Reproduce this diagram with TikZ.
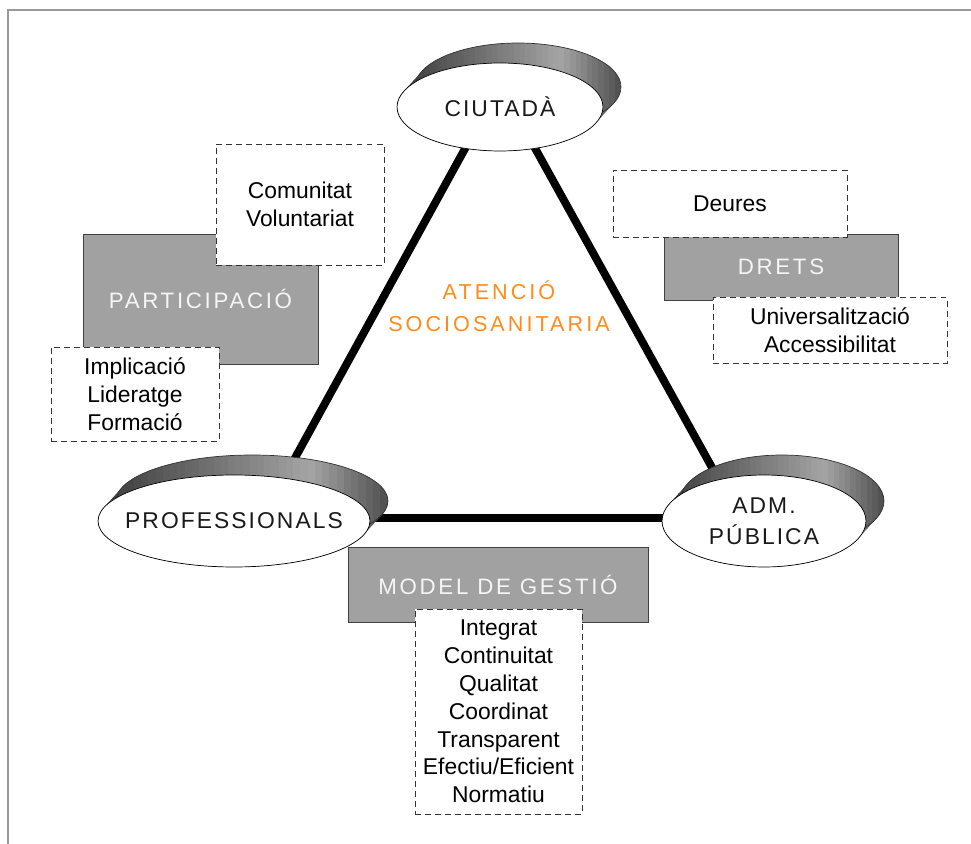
\documentclass[tikz,border=0pt]{standalone}
\usepackage{fontspec}
\setmainfont{Liberation Sans}
\newfontfamily\widefont[LetterSpace=9]{Liberation Sans}
\newfontfamily\widerfont[LetterSpace=12]{Liberation Sans}
\newfontfamily\widestfont[LetterSpace=14]{Liberation Sans}
\usepackage{tikz}
\usetikzlibrary{shapes}
\definecolor{orangetxt}{RGB}{255,140,26}
\tikzstyle{greybox} = [draw=black!75, fill=black!37, rectangle, inner sep=0pt, text=black!4, font=\widerfont\fontsize{12.7}{14}\selectfont]
\tikzstyle{listbox} = [draw=black!80, dash pattern=on 3.4pt off 2.3pt, fill=white, rectangle, inner sep=0pt, align=center, font=\fontsize{13}{15.8}\selectfont]
\tikzstyle{disc} = [draw, ellipse, fill=white, inner sep=0pt, thin]
\tikzstyle{disctext} = [align=center, text=black!90, font=\widefont\fontsize{13}{17.6}\selectfont]
\tikzstyle{side} = [line width=4.5pt, line join=round]

\begin{document}
\begin{tikzpicture}[x=0.02cm, y=-0.02cm]
    \useasboundingbox (0,0) rectangle (971,844);
    \draw [black!40, line width=1.2pt] (8,844) -- (8,10) -- (971,10);

    % triangle
    \coordinate (top) at (500,85);
    \coordinate (left) at (262,518);
    \coordinate (right) at (740,518);
    \draw [side] (left) -- (top) -- (right) -- cycle;

    % 3d sides of the discs, grey from dark to light and back
    \foreach \cx/\cy/\rx/\ry in {500/107/2.06/0.88, 234/521/2.72/0.92, 764/521/2.04/0.92}{
        \begin{scope}[shift={(\cx,\cy)}, x=1cm, y=1cm]
            \begin{scope}
                \clip \foreach \k in {0,...,20} {({0.018*\k},{0.02*\k}) ellipse [x radius=\rx, y radius=\ry]};
                \foreach \i in {0,...,39}{
                    \pgfmathtruncatemacro\dk{\i<29 ? 78-42*\i/29 : 36+32*(\i-29)/10}
                    \fill [black!\dk] ({-\rx+(2*\rx+0.36)*\i/40-0.01},-1.5) rectangle ({-\rx+(2*\rx+0.36)*(\i+1)/40+0.01},1.5);
                }
            \end{scope}
            \draw [black!80, thin] (0.36,0.4) ellipse [x radius=\rx, y radius=\ry];
        \end{scope}
    }

    \node [disc, minimum width=4.12cm, minimum height=1.76cm] (ciutada) at (500,107) {};
    \node [disc, minimum width=5.44cm, minimum height=1.84cm] (prof) at (234,521) {};
    \node [disc, minimum width=4.08cm, minimum height=1.84cm] (adm) at (764,521) {};
    \node [disctext] at (ciutada) {CIUTADÀ};
    \node [disctext] at (prof) {PROFESSIONALS};
    \node [disctext] at (adm.center) {ADM.\\PÚBLICA};

    \node [text=orangetxt, align=center, font=\widestfont\fontsize{12.3}{18}\selectfont] (atencio) at (499,306) {ATENCIÓ\\SOCIOSANITARIA};

    % grey boxes
    \node [greybox, minimum width=4.7cm, minimum height=2.6cm] (partic) at (200.5,299) {PARTICIPACIÓ};
    \node [greybox, minimum width=4.68cm, minimum height=1.32cm] (drets) at (781,267) {DRETS};
    \node [greybox, minimum width=6cm, minimum height=1.5cm] (model) at (498,584.5) {MODEL DE GESTIÓ};

    % dashed boxes
    \node [listbox, minimum width=3.36cm, minimum height=2.42cm] (comunitat) at (300,204.5) {Comunitat\\Voluntariat};
    \node [listbox, minimum width=3.36cm, minimum height=1.88cm] (implic) at (135,394) {Implicació\\Lideratge\\Formació};
    \node [listbox, minimum width=4.68cm, minimum height=1.34cm] (deures) at (730,203.5) {Deures};
    \node [listbox, minimum width=4.68cm, minimum height=1.32cm] (univ) at (830,330) {Universalització\\Accessibilitat};
    \node [listbox, minimum width=3.34cm, minimum height=4.1cm] (gestio) at (498.5,711.5) {Integrat\\Continuitat\\Qualitat\\Coordinat\\Transparent\\Efectiu/Eficient\\Normatiu};
\end{tikzpicture}
\end{document}
